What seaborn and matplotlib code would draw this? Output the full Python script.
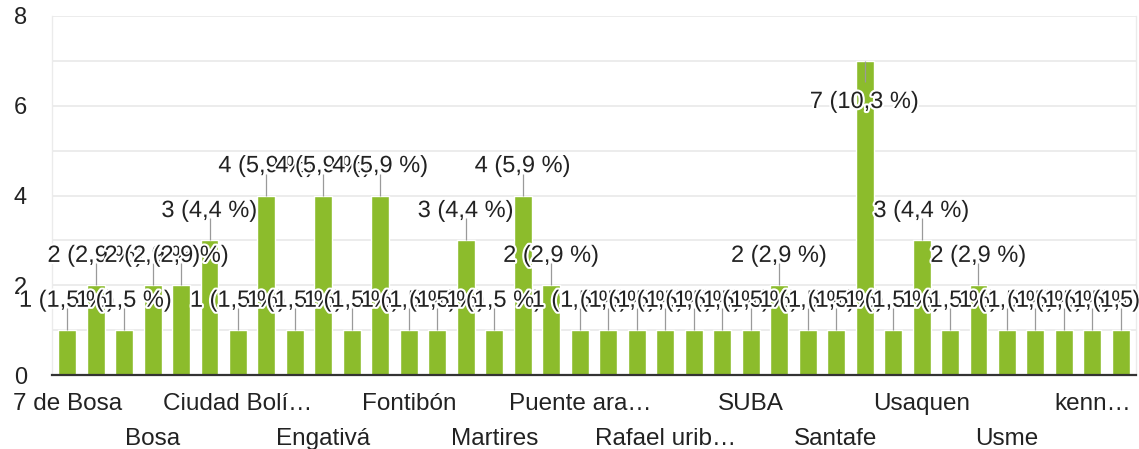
import matplotlib
matplotlib.use("Agg")
import matplotlib.pyplot as plt
import matplotlib.patheffects as pe
import seaborn as sns
import pandas as pd

# ---- data -------------------------------------------------------------
categories = [
    "7 de Bosa", "Antonio Nariño", "Barrios Unidos", "Bosa", "Bosa Centro",
    "Chapinero", "Ciudad Bolívar", "Ciudad bolivar", "Engativa", "Engativá",
    "Engativá norte", "Fontibon", "Fontibón", "Kennedy", "La Candelaria",
    "Martires", "Mártires", "Puente Aranda", "Puente aranda", "Rafael Uribe",
    "Rafael Uribe Uribe", "Rafael uribe", "Rafael uribe uribe", "SAN CRISTOBAL",
    "SUBA", "San Cristóbal", "Santa Fe", "Santafe", "Suba", "Teusaquillo",
    "Usaquen", "Usaquén", "Usaquén norte", "Usme", "Usme centro", "bosa",
    "kennedy", "suba",
]
counts = [1, 2, 1, 2, 2, 3, 1, 4, 1, 4, 1, 4, 1, 1, 3, 1, 4, 2, 1, 1,
          1, 1, 1, 1, 1, 2, 1, 1, 7, 1, 3, 1, 2, 1, 1, 1, 1, 1]
shown_labels = ["7 de Bosa", "Bosa", "Ciudad Bolí…", "Engativá", "Fontibón",
                "Martires", "Puente ara…", "Rafael urib…", "SUBA", "Santafe",
                "Usaquen", "Usme", "kenn…"]
y_ticks = [0, 2, 4, 6, 8]
y_minor = [1, 3, 5, 7]

total = sum(counts)
ymax = 8

sns.set_theme(style="white")
plt.rcParams["font.family"] = ["Liberation Sans", "DejaVu Sans"]

fig = plt.figure(figsize=(11.39, 4.49), dpi=100)
ax = fig.add_axes([52 / 1139, 74 / 449, 1084 / 1139, 359 / 449])

df = pd.DataFrame({"cat": categories, "n": counts})
sns.barplot(data=df, x="cat", y="n", color="#8cbc2c", saturation=1,
            width=0.63, ax=ax, zorder=2)

ax.set_xlim(-0.53, len(categories) - 0.47)
ax.set_ylim(0, ymax)
ax.set_yticks(y_ticks)
ax.set_yticks(y_minor, minor=True)
ax.grid(True, which="both", axis="y", color="#e9e9e9", linewidth=1.2)
ax.set_axisbelow(True)
ax.set_xlabel("")
ax.set_ylabel("")

ticks = list(range(0, len(categories), 3))
ax.set_xticks(ticks)
lbls = [lab if k % 2 == 0 else "\n" + lab for k, lab in enumerate(shown_labels)]
ax.set_xticklabels(lbls, fontsize=17.5, color="#222222", linespacing=1.75)
ax.tick_params(axis="x", length=0, pad=13)
ax.tick_params(axis="y", which="both", length=0, pad=18, labelsize=17,
               labelcolor="#222222")

for s in ["left", "right"]:
    ax.spines[s].set_color("#ebebeb")
    ax.spines[s].set_linewidth(1)
ax.spines["top"].set_visible(False)
ax.spines["bottom"].set_color("#333333")
ax.spines["bottom"].set_linewidth(1.6)
ax.spines["bottom"].set_zorder(50)

halo = [pe.withStroke(linewidth=3, foreground="white")]
for i, v in enumerate(counts):
    pct = f"{v / total * 100:.1f}".replace(".", ",")
    txt = f"{v} ({pct} %)"
    if v + 1.0 >= ymax:
        y0, y1, yb = v, v - 0.47, v - 1.05
    else:
        y0, y1, yb = v, v + 0.49, v + 0.52
    ax.plot([i, i], [y0, y1], color="#9a9a9a", lw=0.9, zorder=3 + 2 * i,
            solid_capstyle="butt")
    ax.text(i, yb, txt, ha="center", va="baseline", fontsize=17,
            color="#222222", path_effects=halo, zorder=4 + 2 * i)

fig.savefig("out.png", dpi=100, facecolor="white")
